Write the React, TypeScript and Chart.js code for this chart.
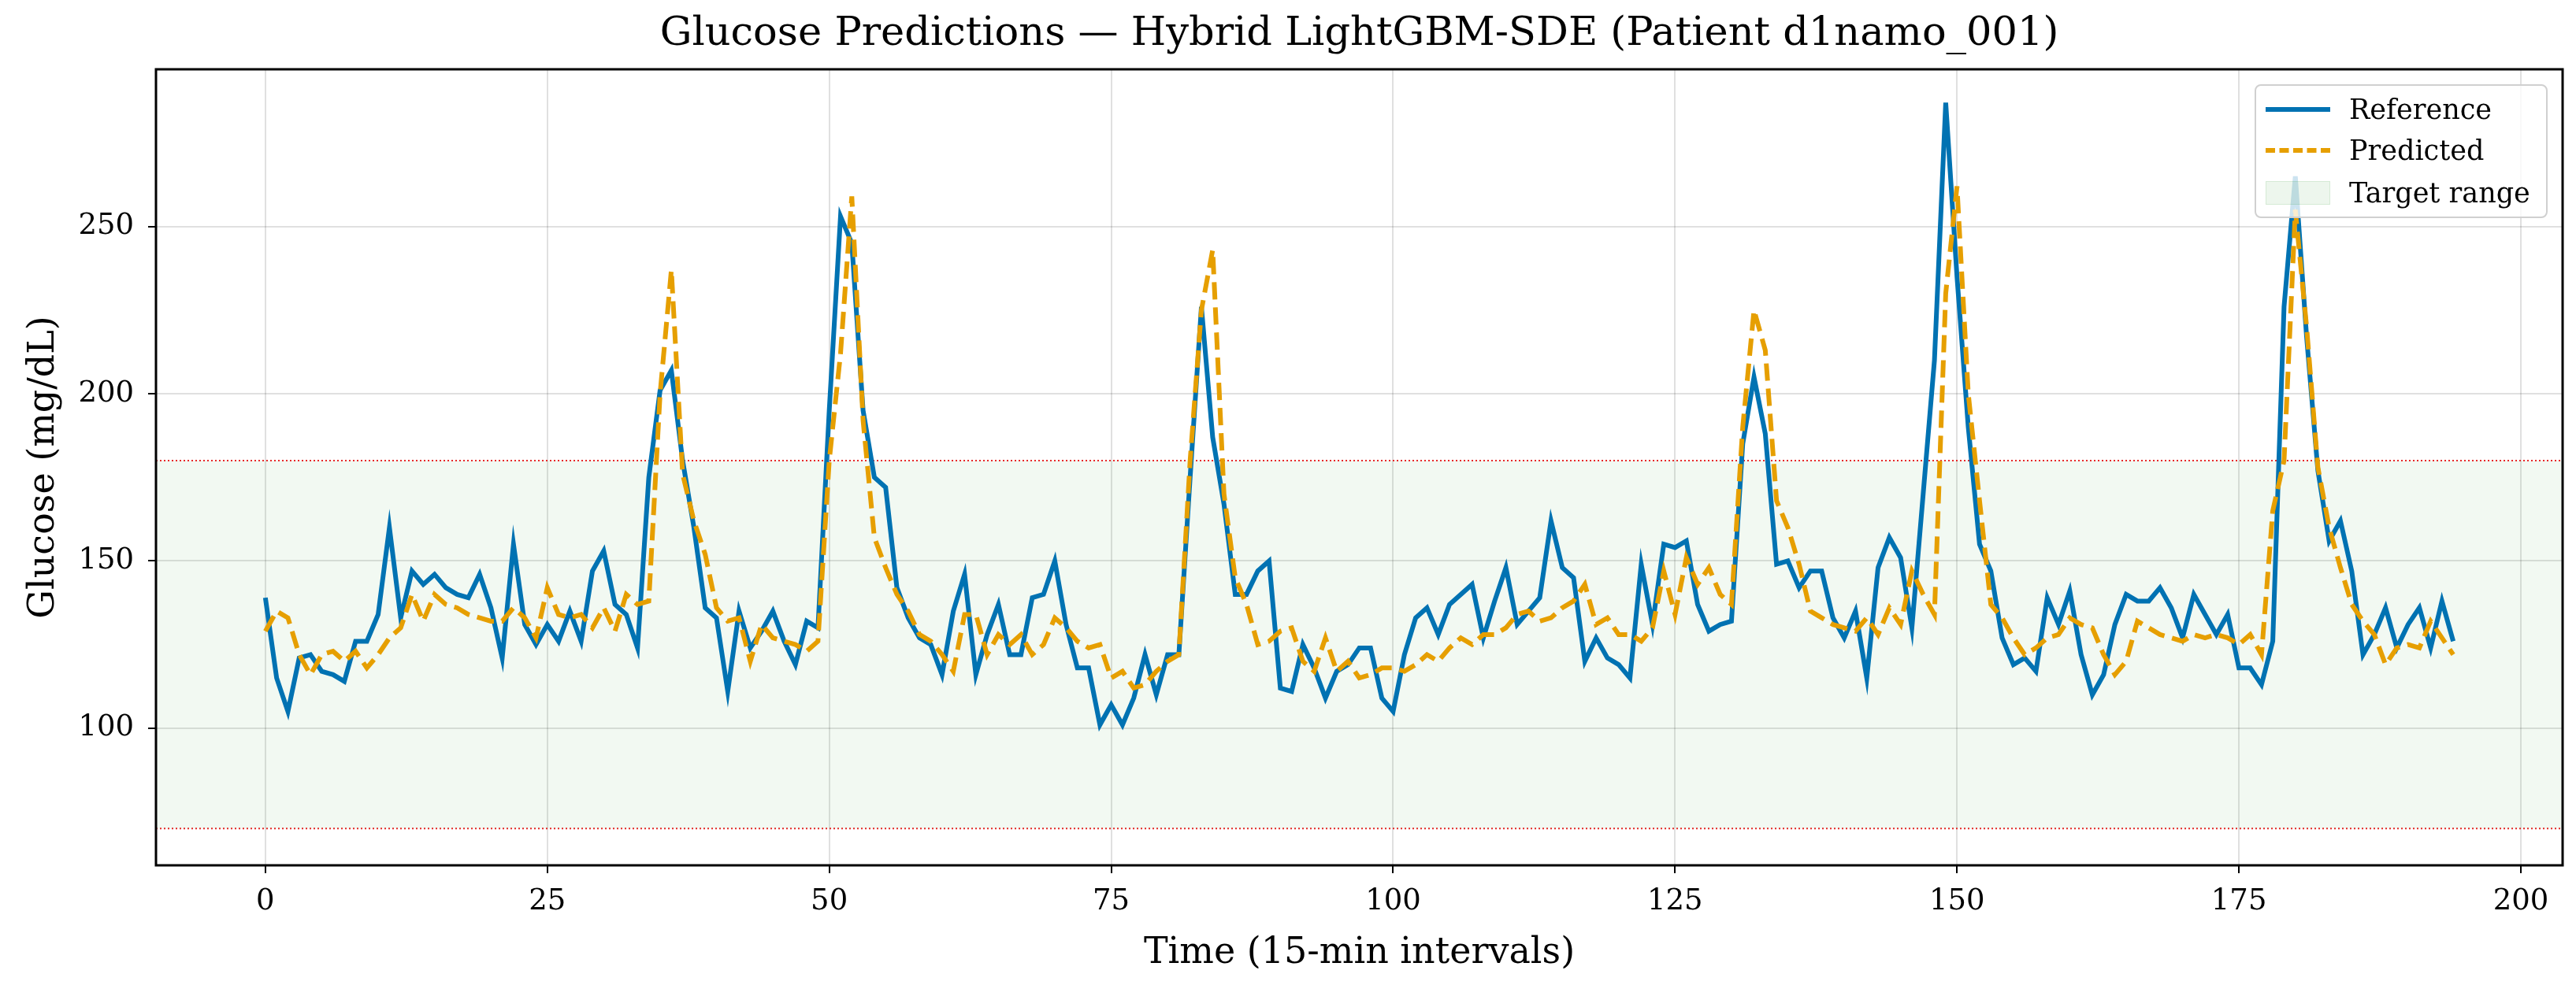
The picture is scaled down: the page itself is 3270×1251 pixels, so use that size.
import React, { useEffect, useRef } from "react";
import { Chart, registerables } from "chart.js";
Chart.register(...registerables);

const reference = [139,115,105,121,122,117,116,114,126,126,134,160,133,147,143,146,142,140,139,146,136,121,155,131,125,131,126,135,126,147,153,137,134,124,175,201,207,180,160,136,133,111,135,124,129,135,126,119,132,130,195,253,245,195,175,172,142,133,127,125,116,135,146,116,128,137,122,122,139,140,150,131,118,118,101,107,101,109,122,110,122,122,175,226,187,167,140,140,147,150,112,111,125,118,109,117,119,124,124,109,105,122,133,136,128,137,140,143,127,138,148,131,135,139,162,148,145,120,127,121,119,115,149,131,155,154,156,137,129,131,132,185,205,188,149,150,142,147,147,133,127,135,115,148,157,151,130,170,210,287,235,190,155,147,127,119,121,117,139,131,141,122,110,116,131,140,138,138,142,136,127,140,134,128,134,118,118,113,126,226,265,217,177,156,162,147,122,128,136,124,131,136,124,138,126];
const predicted = [129,135,133,122,116,122,123,120,123,118,122,127,130,140,132,140,137,136,134,133,132,132,136,133,127,142,134,133,134,130,136,129,140,137,138,200,237,176,162,152,136,132,133,120,131,127,126,125,123,126,180,212,259,192,157,148,140,135,128,126,122,117,134,134,122,128,125,128,122,125,133,130,126,124,125,115,117,112,113,117,120,122,180,225,243,170,145,137,125,126,129,130,120,117,127,117,120,115,116,118,118,117,119,122,120,124,127,125,128,128,130,134,135,132,133,136,138,143,131,133,128,128,126,130,147,134,151,143,148,140,137,190,225,213,168,160,149,135,133,131,130,129,133,128,136,131,147,140,134,230,262,200,168,137,133,127,122,124,127,128,133,131,130,122,116,120,132,130,128,127,126,128,127,128,127,125,128,122,165,180,255,220,178,160,148,137,132,128,119,124,125,124,132,127,122];
const targetRange = [70, 180];
const xTicks = [0, 25, 50, 75, 100, 125, 150, 175, 200];
const yTicks = [100, 150, 200, 250];
const X_MIN = -9.7, X_MAX = 203.7, Y_MIN = 59, Y_MAX = 297;

const FONT = "'DejaVu Serif', serif";
const BLUE = "#0072B2";
const ORANGE = "#E69F00";

export default function App() {
  const ref = useRef<HTMLCanvasElement>(null);
  useEffect(() => {
    document.body.style.margin = "0";
    const frame = {
      id: "frame",
      afterDraw(chart: any) {
        const { ctx, chartArea: a } = chart;
        ctx.save();
        ctx.strokeStyle = "#000";
        ctx.lineWidth = 3;
        ctx.strokeRect(a.left, a.top, a.right - a.left, a.bottom - a.top);
        ctx.restore();
      },
    };
    const pts = (arr: number[]) => arr.map((y, i) => ({ x: i, y }));
    const chart = new Chart(ref.current!, {
      type: "line",
      data: {
        datasets: [
          { label: "Reference", data: pts(reference), borderColor: BLUE, borderWidth: 6, pointRadius: 0, order: 2, tension: 0 },
          { label: "Predicted", data: pts(predicted), borderColor: ORANGE, borderWidth: 6, borderDash: [22, 10], pointRadius: 0, order: 1, tension: 0 },
          { label: "Target range", data: [{ x: X_MIN, y: targetRange[1] }, { x: X_MAX, y: targetRange[1] }], borderColor: "rgba(230,30,30,0.95)", borderWidth: 2, borderDash: [2, 3], pointRadius: 0, fill: "+1", backgroundColor: "rgba(0,128,0,0.05)", order: 10 },
          { label: "low", data: [{ x: X_MIN, y: targetRange[0] }, { x: X_MAX, y: targetRange[0] }], borderColor: "rgba(230,30,30,0.95)", borderWidth: 2, borderDash: [2, 3], pointRadius: 0, fill: false, order: 10 },
        ],
      },
      options: {
        animation: false,
        responsive: false,
        layout: { padding: { top: 88, right: 17, left: 0, bottom: 0 } },
        plugins: { legend: { display: false }, title: { display: false }, tooltip: { enabled: false } },
        scales: {
          x: {
            type: "linear", min: X_MIN, max: X_MAX,
            afterFit: (s: any) => { s.height = 152; },
            afterBuildTicks: (s: any) => { s.ticks = xTicks.map((v) => ({ value: v })); },
            ticks: { font: { family: FONT, size: 37 }, color: "#000", padding: 14, maxRotation: 0 },
            grid: { color: "rgba(0,0,0,0.12)", lineWidth: 2, tickColor: "#000", tickLength: 10 },
            border: { display: false },
            title: { display: true, text: "Time (15-min intervals)", font: { family: FONT, size: 46 }, color: "#000", padding: { top: 0, bottom: 12 } },
          },
          y: {
            type: "linear", min: Y_MIN, max: Y_MAX,
            afterFit: (s: any) => { s.width = 198; },
            afterBuildTicks: (s: any) => { s.ticks = yTicks.map((v) => ({ value: v })); },
            ticks: { font: { family: FONT, size: 37 }, color: "#000", padding: 18 },
            grid: { color: "rgba(0,0,0,0.12)", lineWidth: 2, tickColor: "#000", tickLength: 10 },
            border: { display: false },
            title: { display: true, text: "Glucose (mg/dL)", font: { family: FONT, size: 46 }, color: "#000", padding: { top: 28, bottom: 0 } },
          },
        },
      },
      plugins: [frame],
    } as any);
    return () => chart.destroy();
  }, []);

  const row = (top: number, sample: React.ReactNode, text: string) => (
    <div style={{ position: "absolute", left: 12, top, display: "flex", alignItems: "center", height: 50 }}>
      <div style={{ width: 82, display: "flex", alignItems: "center" }}>{sample}</div>
      <span style={{ marginLeft: 24, fontFamily: FONT, fontSize: 35, color: "#000" }}>{text}</span>
    </div>
  );

  return (
    <div style={{ position: "relative", width: 3270, height: 1251, background: "#fff" }}>
      <canvas ref={ref} width={3270} height={1251} style={{ width: 3270, height: 1251, display: "block" }} />
      <div style={{ position: "absolute", left: 198, width: 3055, top: 10, textAlign: "center", fontFamily: FONT, fontSize: 51, color: "#000", lineHeight: "60px" }}>
        Glucose Predictions — Hybrid LightGBM-SDE (Patient d1namo_001)
      </div>
      <div style={{ position: "absolute", left: 2862, top: 107, width: 372, height: 170, background: "rgba(255,255,255,0.8)", border: "2px solid #d0d0d0", borderRadius: 8, boxSizing: "border-box" }}>
        {row(5, <div style={{ width: 82, height: 6, background: BLUE }} />, "Reference")}
        {row(57, <div style={{ width: 82, height: 0, borderTop: `6px dashed ${ORANGE}` }} />, "Predicted")}
        {row(111, <div style={{ width: 82, height: 28, background: "rgba(0,128,0,0.07)", border: "1px solid rgba(0,128,0,0.1)" }} />, "Target range")}
      </div>
    </div>
  );
}
